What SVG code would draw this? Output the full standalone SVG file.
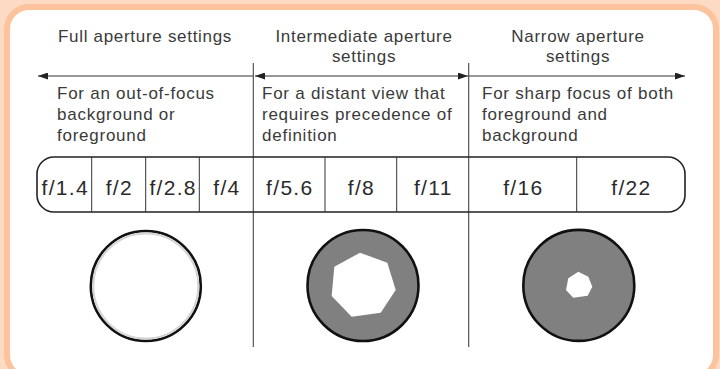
<svg xmlns="http://www.w3.org/2000/svg" width="720" height="369" viewBox="0 0 720 369">
<style>
.h{font-family:"Liberation Sans",Arial,sans-serif;font-size:17px;fill:#3a3a3a;letter-spacing:0.7px}
.b{font-family:"Liberation Sans",Arial,sans-serif;font-size:17px;fill:#3a3a3a;letter-spacing:0.75px}
.f{font-family:"Liberation Sans",Arial,sans-serif;font-size:21px;fill:#2a2a2a;letter-spacing:1.3px;text-anchor:middle}
.div{stroke:#444;stroke-width:1.1}
.cell{stroke:#333;stroke-width:1}
.arr{stroke:#333;stroke-width:1.2;fill:none}
.ap{stroke:#111;stroke-width:2.6}
</style>
<defs>
<marker id="ah" viewBox="0 0 10 7" refX="10" refY="3.5" markerWidth="10" markerHeight="7" markerUnits="userSpaceOnUse" orient="auto-start-reverse">
<path d="M0,0 L10,3.5 L0,7 z" fill="#222"/>
</marker>
</defs>
<rect x="0" y="0" width="720" height="369" fill="#fcdac3"/>
<rect x="7" y="7" width="709" height="370" rx="22" fill="#fff" stroke="#fcc39c" stroke-width="6"/>

<g id="headings">
<text class="h" x="145" y="42" text-anchor="middle">Full aperture settings</text>
<text class="h" x="364" y="42" text-anchor="middle">Intermediate aperture</text>
<text class="h" x="364" y="62" text-anchor="middle">settings</text>
<text class="h" x="578" y="42" text-anchor="middle">Narrow aperture</text>
<text class="h" x="578" y="62" text-anchor="middle">settings</text>
</g>

<g id="connectors">
<line class="div" x1="253.3" y1="63" x2="253.3" y2="347"/>
<line class="div" x1="468.7" y1="63" x2="468.7" y2="347"/>
<line class="arr" x1="253" y1="76" x2="38" y2="76" marker-end="url(#ah)"/>
<line class="arr" x1="255" y1="76" x2="468" y2="76" marker-start="url(#ah)" marker-end="url(#ah)"/>
<line class="arr" x1="469" y1="76" x2="685" y2="76" marker-end="url(#ah)"/>
</g>

<g id="full-desc">
<text class="b" x="57" y="99">For an out-of-focus</text>
<text class="b" x="57" y="120">background or</text>
<text class="b" x="57" y="141">foreground</text>
</g>
<g id="intermediate-desc">
<text class="b" x="262" y="99">For a distant view that</text>
<text class="b" x="262" y="120">requires precedence of</text>
<text class="b" x="262" y="141">definition</text>
</g>
<g id="narrow-desc">
<text class="b" x="482" y="99">For sharp focus of both</text>
<text class="b" x="482" y="120">foreground and</text>
<text class="b" x="482" y="141">background</text>
</g>

<g id="fstop-bar">
<rect x="37" y="157" width="648" height="55" rx="17" fill="none" stroke="#222" stroke-width="1.6"/>
<line class="cell" x1="91.7" y1="157" x2="91.7" y2="212"/>
<line class="cell" x1="145.7" y1="157" x2="145.7" y2="212"/>
<line class="cell" x1="199.3" y1="157" x2="199.3" y2="212"/>
<line class="cell" x1="325" y1="157" x2="325" y2="212"/>
<line class="cell" x1="396.7" y1="157" x2="396.7" y2="212"/>
<line class="cell" x1="576.7" y1="157" x2="576.7" y2="212"/>
<text class="f" x="65.2" y="194.5">f/1.4</text>
<text class="f" x="119.3" y="194.5">f/2</text>
<text class="f" x="173.1" y="194.5">f/2.8</text>
<text class="f" x="226.9" y="194.5">f/4</text>
<text class="f" x="289.8" y="194.5">f/5.6</text>
<text class="f" x="361.4" y="194.5">f/8</text>
<text class="f" x="433.3" y="194.5">f/11</text>
<text class="f" x="523.3" y="194.5">f/16</text>
<text class="f" x="631.4" y="194.5">f/22</text>
</g>

<g id="aperture-full">
<circle cx="145.8" cy="286" r="55" fill="#fff" class="ap"/>
<circle cx="145.8" cy="286" r="52.5" fill="none" stroke="#d4d4d4" stroke-width="2"/>
</g>
<g id="aperture-intermediate">
<circle cx="363" cy="285.5" r="55.5" fill="#808080" class="ap"/>
<polygon points="360,252.7 387.3,262.7 395.7,290 380.7,312.7 351.7,316.7 331.7,296 334.3,266.7" fill="#fff"/>
</g>
<g id="aperture-narrow">
<circle cx="578.8" cy="285.4" r="55.5" fill="#808080" class="ap"/>
<polygon points="578.3,271.7 588.3,276.7 592.3,286.7 587.7,295.7 573.3,297.7 566,290 568.3,278.3" fill="#fff"/>
</g>
</svg>
